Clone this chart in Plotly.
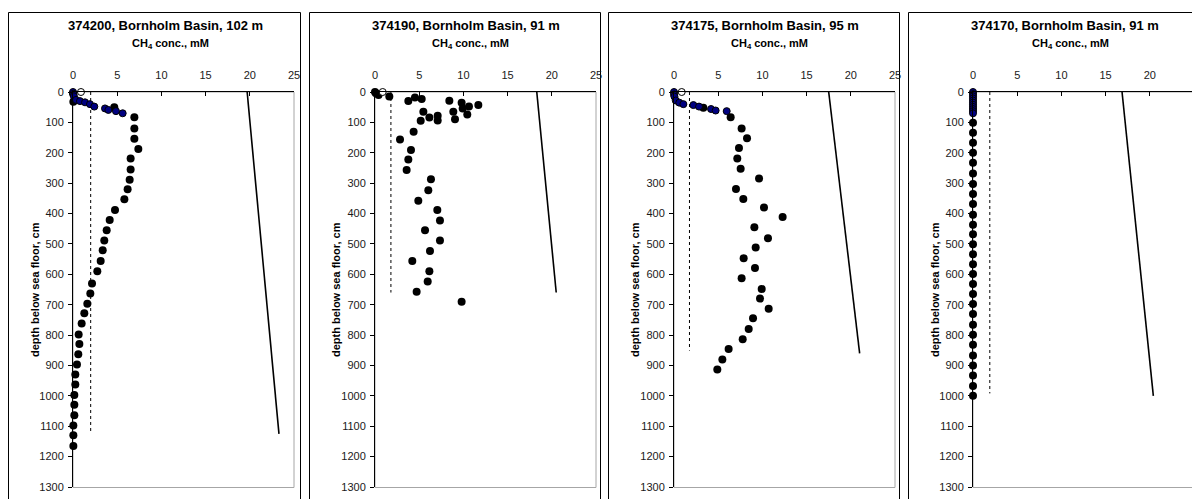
import plotly.graph_objects as go

W, H = 1192, 499

titles = ["374200, Bornholm Basin, 102 m", "374190, Bornholm Basin, 91 m",
          "374175, Bornholm Basin, 95 m", "374170, Bornholm Basin, 91 m"]

# ---- core 374200 ----
c1_black_x = [0.0, 0.04, 4.67, 6.94, 6.94, 6.94, 7.39, 6.52, 6.52, 6.41, 6.18, 5.81, 4.75, 4.15, 3.81,
              3.54, 3.36, 3.13, 2.75, 2.15, 1.96, 1.62, 1.28, 0.98, 0.64, 0.72, 0.60, 0.45, 0.26,
              0.26, 0.15, 0.15, 0.15, 0.04, 0.04, 0.04]
c1_black_d = [5, 32, 50, 83, 120, 154, 188, 219, 255, 289, 320, 353, 388, 421, 455,
              489, 521, 556, 590, 630, 663, 697, 728, 762, 798, 829, 863, 897, 930,
              963, 997, 1029, 1064, 1098, 1130, 1165]
c1_blue_x = [0.0, 0.05, 0.1, 0.34, 0.79, 1.36, 1.92, 2.41, 3.62, 4.0, 4.86, 5.62]
c1_blue_d = [0, 6, 14, 26, 30, 34, 40, 48, 54, 59, 63, 70]
c1_open_x = [0.9]
c1_open_d = [0]
c1_dot_x = [2.0, 2.0]
c1_dot_d = [0, 1123]
c1_sat_x = [19.7, 23.3]
c1_sat_d = [0, 1125]

# ---- core 374190 ----
c2_black_x = [0.0, 0.1, 0.4, 1.62, 3.77, 4.52, 5.28, 5.47, 5.17, 6.15, 7.09, 7.09, 8.41, 9.8,
              8.86, 9.05, 9.92, 10.63, 10.44, 11.69, 4.37, 2.83, 4.07, 3.77, 3.58, 6.33,
              6.03, 4.90, 7.05, 7.35, 5.66, 7.35, 6.22, 4.22, 6.15, 5.96, 4.71, 9.80]
c2_black_d = [0, 4, 10, 15, 30, 18, 23, 65, 95, 84, 78, 94, 29, 35,
              65, 90, 54, 48, 74, 43, 131, 156, 191, 222, 257, 287,
              323, 358, 388, 423, 455, 489, 523, 556, 590, 624, 657, 690]
c2_open_x = [0.87]
c2_open_d = [0]
c2_dot_x = [1.8, 1.8]
c2_dot_d = [0, 660]
c2_sat_x = [18.3, 20.5]
c2_sat_d = [0, 660]

# ---- core 374175 ----
c3_black_x = [3.32, 6.41, 7.65, 8.26, 7.35, 7.16, 7.54, 9.62, 7.01, 7.84, 10.18, 12.29, 9.09,
              10.63, 9.24, 7.88, 9.16, 7.65, 9.92, 9.73, 10.71, 8.94, 8.45, 7.77, 6.18, 5.47, 4.90]
c3_black_d = [52, 83, 120, 152, 184, 219, 253, 285, 319, 352, 380, 411, 445,
              481, 512, 547, 579, 613, 648, 680, 713, 745, 780, 814, 846, 880, 913]
c3_blue_x = [0.0, 0.0, 0.05, 0.2, 0.6, 1.06, 2.19, 2.83, 4.19, 4.71, 5.96]
c3_blue_d = [0, 8, 15, 28, 35, 40, 43, 48, 56, 61, 63]
c3_open_x = [0.87]
c3_open_d = [0]
c3_dot_x = [1.75, 1.75]
c3_dot_d = [0, 851]
c3_sat_x = [17.5, 21.0]
c3_sat_d = [0, 860]

# ---- core 374170 ----
c4_black_x = [0.0] * 28
c4_black_d = [101, 134, 167, 200, 233, 268, 303, 336, 369, 404, 437, 468, 501, 534,
              567, 599, 632, 665, 698, 731, 766, 799, 832, 867, 900, 933, 968, 1000]
c4_blue_x = [0.0] * 11
c4_blue_d = [0, 7, 14, 21, 28, 35, 42, 49, 56, 63, 70]
c4_dot_x = [1.9, 1.9]
c4_dot_d = [0, 992]
c4_sat_x = [16.86, 20.4]
c4_sat_d = [0, 1000]

x_ticks = [0, 5, 10, 15, 20, 25]
y_ticks = list(range(0, 1301, 100))

cores = [
    dict(black=(c1_black_x, c1_black_d), blue=(c1_blue_x, c1_blue_d), open=(c1_open_x, c1_open_d),
         dot=(c1_dot_x, c1_dot_d), sat=(c1_sat_x, c1_sat_d)),
    dict(black=(c2_black_x, c2_black_d), blue=None, open=(c2_open_x, c2_open_d),
         dot=(c2_dot_x, c2_dot_d), sat=(c2_sat_x, c2_sat_d)),
    dict(black=(c3_black_x, c3_black_d), blue=(c3_blue_x, c3_blue_d), open=(c3_open_x, c3_open_d),
         dot=(c3_dot_x, c3_dot_d), sat=(c3_sat_x, c3_sat_d)),
    dict(black=(c4_black_x, c4_black_d), blue=(c4_blue_x, c4_blue_d), open=None,
         dot=(c4_dot_x, c4_dot_d), sat=(c4_sat_x, c4_sat_d)),
]

# layout geometry (pixels)
box_left = [8, 309, 608, 908]
box_right = [300, 600, 899, 1215]
axis_x0 = [73, 375, 674, 973]
px_per_unit = 8.84
plot_top, plot_bot = 92, 487
box_top = 12


def xp(px):
    return px / W


def yp(py):
    return 1 - py / H


FONT = "Liberation Sans, Arial, sans-serif"

fig = go.Figure()
layout = dict(width=W, height=H, margin=dict(l=0, r=0, t=0, b=0, pad=0, autoexpand=False),
              paper_bgcolor="white", plot_bgcolor="white", showlegend=False,
              font=dict(family=FONT, color="black"))
shapes = []
annotations = []

for i, core in enumerate(cores):
    n = i + 1
    xa = "x" if n == 1 else f"x{n}"
    ya = "y" if n == 1 else f"y{n}"
    x0 = axis_x0[i]
    x1 = min(x0 + 25 * px_per_unit, W)
    xmax = (x1 - x0) / px_per_unit

    shapes.append(dict(type="rect", xref="paper", yref="paper", x0=xp(x0), x1=xp(x0 + 25 * px_per_unit),
                       y0=yp(plot_bot + 0.5), y1=yp(plot_top), line=dict(color="#a6a6a6", width=1), layer="below"))
    shapes.append(dict(type="rect", xref="paper", yref="paper", x0=xp(box_left[i] + 0.5), x1=xp(box_right[i] + 0.5),
                       y0=yp(520), y1=yp(box_top + 0.5), line=dict(color="black", width=1), layer="below"))

    dx, dd = core["dot"]
    fig.add_trace(go.Scatter(x=dx, y=dd, mode="lines", line=dict(color="black", width=1, dash="dot"),
                             xaxis=xa, yaxis=ya, hoverinfo="skip"))
    sx, sd = core["sat"]
    fig.add_trace(go.Scatter(x=sx, y=sd, mode="lines", line=dict(color="black", width=1.6),
                             xaxis=xa, yaxis=ya, hoverinfo="skip"))
    bx, bd = core["black"]
    fig.add_trace(go.Scatter(x=bx, y=bd, mode="markers",
                             marker=dict(color="black", size=8, line=dict(width=0)),
                             xaxis=xa, yaxis=ya, cliponaxis=False))
    if core["blue"]:
        ux, ud = core["blue"]
        fig.add_trace(go.Scatter(x=ux, y=ud, mode="markers",
                                 marker=dict(color="#000080", size=7, line=dict(color="black", width=1)),
                                 xaxis=xa, yaxis=ya, cliponaxis=False))
    if core["open"]:
        ox, od = core["open"]
        fig.add_trace(go.Scatter(x=ox, y=od, mode="markers",
                                 marker=dict(color="white", size=7, line=dict(color="black", width=1)),
                                 xaxis=xa, yaxis=ya, cliponaxis=False))

    xkey = "xaxis" if n == 1 else f"xaxis{n}"
    ykey = "yaxis" if n == 1 else f"yaxis{n}"
    layout[xkey] = dict(domain=[xp(x0), xp(x1)], range=[0, xmax], side="top", anchor=ya,
                        tickvals=x_ticks, ticktext=[str(t) for t in x_ticks],
                        ticks="inside", ticklen=4, tickcolor="black", ticklabelstandoff=8,
                        showline=True, linecolor="black", linewidth=1,
                        showgrid=False, zeroline=False, automargin=False,
                        tickfont=dict(family=FONT, size=11, color="#1a1a1a"))
    layout[ykey] = dict(domain=[yp(plot_bot), yp(plot_top)], range=[1300, 0], anchor=xa,
                        tickvals=y_ticks, ticks="outside", ticklen=4, tickcolor="black", ticklabelstandoff=2,
                        showline=True, linecolor="black", linewidth=1,
                        showgrid=False, zeroline=False, automargin=False,
                        tickfont=dict(family=FONT, size=11, color="#1a1a1a"))

    cx = (box_left[i] + box_right[i] if i < 3 else box_left[i] + box_left[i] + 292) / 2
    annotations.append(dict(text="<b>" + titles[i] + "</b>", xref="paper", yref="paper",
                            x=xp(cx + 11), y=yp(25), xanchor="center", yanchor="middle", showarrow=False,
                            font=dict(family=FONT, size=13, color="black")))
    annotations.append(dict(text="<b>CH<sub>4</sub> conc., mM</b>", xref="paper", yref="paper",
                            x=xp(cx + 16), y=yp(44), xanchor="center", yanchor="middle", showarrow=False,
                            font=dict(family=FONT, size=11, color="black")))
    annotations.append(dict(text="<b>depth below sea floor, cm</b>", xref="paper", yref="paper",
                            x=xp(box_left[i] + 27), y=yp(290), xanchor="center", yanchor="middle",
                            showarrow=False, textangle=-90,
                            font=dict(family=FONT, size=11, color="black")))

layout["shapes"] = shapes
layout["annotations"] = annotations
fig.update_layout(**layout)

fig.write_html("out.html", config={"displayModeBar": False},
               post_script="document.body.style.margin='0';document.body.style.overflow='hidden';")
